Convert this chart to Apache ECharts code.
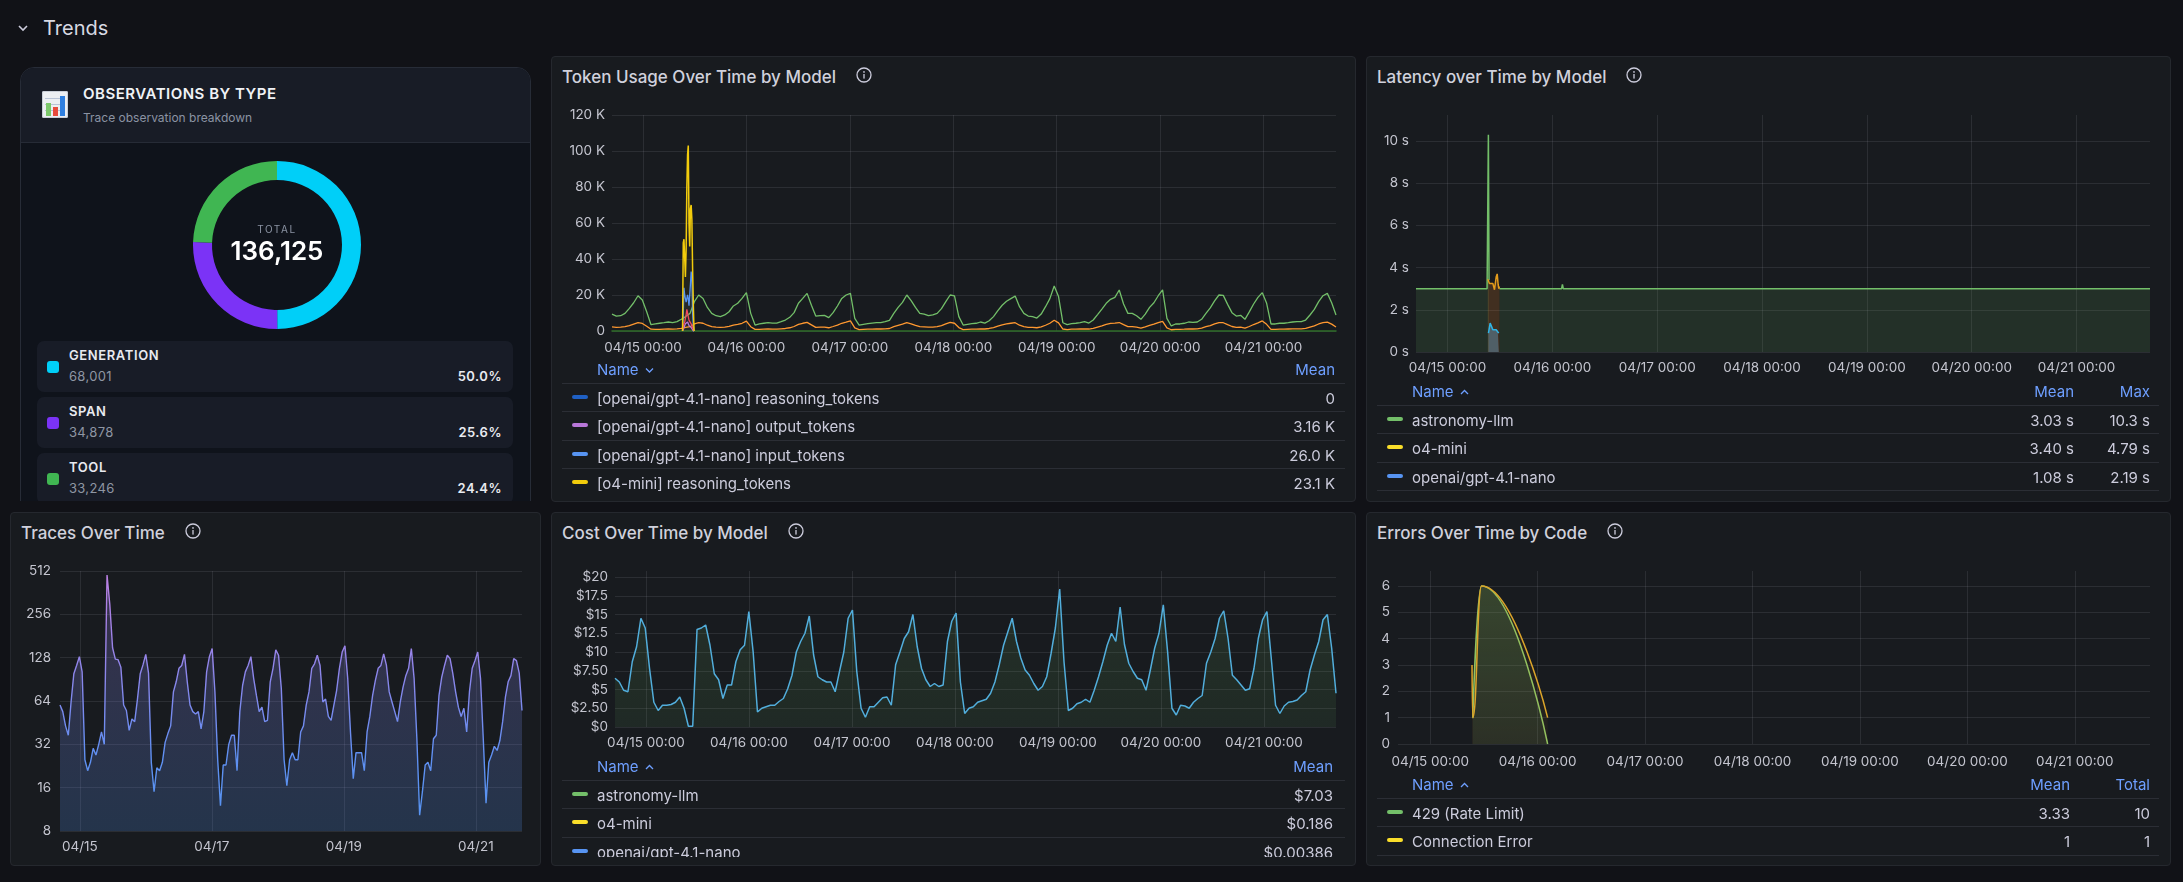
<!DOCTYPE html>
<html>
<head>
<meta charset="utf-8">
<title>Trends</title>
<script src="https://cdn.jsdelivr.net/npm/echarts@6.0.0/dist/echarts.min.js"></script>
<style>
body{margin:0;width:2183px;height:882px;overflow:hidden;background:#111217;font-family:Inter,"Noto Sans",sans-serif;color:#ccccdc;position:relative}
.panel{position:absolute;background:#181b1f;border:1px solid #25282e;border-radius:4px;box-sizing:border-box}
.ptitle{position:absolute;display:flex;align-items:center;gap:20px;height:20px;font-size:17px;font-weight:500;color:#d0d1dc;white-space:nowrap}
.chart{position:absolute}
.lg{position:absolute;overflow:hidden;font-size:15px;color:#ccccdc}
.lg .hd,.lg .row{position:absolute;left:0;right:0;border-bottom:1px solid #2b2e35;white-space:nowrap}
.lg .hd{height:26px;line-height:26px;color:#6e9fff;top:0}
.lg .row{height:28.3px;line-height:31px}
.lg .nm{position:absolute;left:35px}
.lg .mk{position:absolute;left:10px;top:12px;width:16px;height:4px;border-radius:2px}
.lg .num{position:absolute;text-align:right}
.obs{position:absolute;left:20px;top:67px;width:511px;height:434px;overflow:hidden}
.card{position:absolute;left:0;top:0;width:511px;height:520px;box-sizing:border-box;border:1px solid #272c37;border-radius:14px;background:#0f131b;overflow:hidden}
.card .head{position:absolute;left:0;top:0;right:0;height:74px;background:#181c26;border-bottom:1px solid #262b36}
.orow{position:absolute;left:16px;width:476px;height:51px;border-radius:7px;background:#181c27}
.orow .sq{position:absolute;left:10px;top:20px;width:12px;height:12px;border-radius:3px}
.orow .lab{position:absolute;left:32px;top:6px;font-size:13px;font-weight:600;color:#e8eaf0;letter-spacing:0.6px}
.orow .val{position:absolute;left:32px;top:27px;font-size:13px;color:#8f96a3;letter-spacing:0.3px}
.orow .pct{position:absolute;right:11px;top:27px;font-size:13px;font-weight:600;color:#e8eaf0;letter-spacing:0.5px}
</style>
</head>
<body>

<svg style="position:absolute;left:17px;top:24px" width="12" height="8" viewBox="0 0 12 8"><polyline points="2,2 6,6 10,2" fill="none" stroke="#ccccdc" stroke-width="1.6"/></svg>
<div style="position:absolute;left:43px;top:15px;font-size:20px;line-height:26px;color:#d8d9e3">Trends</div>

<div class="obs">
  <div class="card">
    <div class="head">
      <div style="position:absolute;left:21px;top:23px;width:26px;height:27px;background:#eceef2;border-radius:2px;box-shadow:inset 0 0 0 1px #c9ced8">
        <div style="position:absolute;left:3px;right:3px;top:7px;height:1px;background:#b9c3d6"></div>
        <div style="position:absolute;left:3px;right:3px;top:13px;height:1px;background:#b9c3d6"></div>
        <div style="position:absolute;left:3px;right:3px;top:19px;height:1px;background:#b9c3d6"></div>
        <div style="position:absolute;left:4px;top:12px;width:5px;height:13px;background:#7cc86b"></div>
        <div style="position:absolute;left:11px;top:16px;width:5px;height:9px;background:#e84a3c"></div>
        <div style="position:absolute;left:18px;top:5px;width:5px;height:20px;background:#2f7fe0"></div>
      </div>
      <div style="position:absolute;left:62px;top:16px;font-size:15px;font-weight:600;letter-spacing:0.5px;color:#f0f2f6;line-height:20px">OBSERVATIONS BY TYPE</div>
      <div style="position:absolute;left:62px;top:42px;font-size:12px;color:#8b93a3;line-height:16px">Trace observation breakdown</div>
    </div>
    <div id="donut" style="position:absolute;left:166px;top:87px;width:180px;height:180px"></div>
    <div style="position:absolute;left:166px;top:155px;width:180px;text-align:center;font-size:10px;letter-spacing:1.6px;color:#8b93a3">TOTAL</div>
    <div id="obsTotal" style="position:absolute;left:166px;top:166px;width:180px;text-align:center;font-size:26px;font-weight:600;color:#ffffff;line-height:34px"></div>
    <div id="obsRows"></div>
  </div>
</div>

<div class="panel" style="left:551px;top:56px;width:805px;height:446px"></div>
<div class="panel" style="left:1366px;top:56px;width:805px;height:446px"></div>
<div class="panel" style="left:10px;top:512px;width:531px;height:354px"></div>
<div class="panel" style="left:551px;top:512px;width:805px;height:354px"></div>
<div class="panel" style="left:1366px;top:512px;width:805px;height:354px"></div>

<div class="ptitle" style="left:562px;top:67px">Token Usage Over Time by Model<span class="info"></span></div>
<div class="ptitle" style="left:1377px;top:67px">Latency over Time by Model<span class="info"></span></div>
<div class="ptitle" style="left:21px;top:523px">Traces Over Time<span class="info"></span></div>
<div class="ptitle" style="left:562px;top:523px">Cost Over Time by Model<span class="info"></span></div>
<div class="ptitle" style="left:1377px;top:523px">Errors Over Time by Code<span class="info"></span></div>

<div id="cTokens" class="chart" style="left:551px;top:56px;width:805px;height:446px"></div>
<div id="cLatency" class="chart" style="left:1366px;top:56px;width:805px;height:446px"></div>
<div id="cTraces" class="chart" style="left:10px;top:512px;width:531px;height:354px"></div>
<div id="cCost" class="chart" style="left:551px;top:512px;width:805px;height:354px"></div>
<div id="cErrors" class="chart" style="left:1366px;top:512px;width:805px;height:354px"></div>

<script>
// ---- observations by type
const obsTypes = ['GENERATION', 'SPAN', 'TOOL'];
const obsCounts = [68001, 34878, 33246];
const obsColors = ['#00cff8', '#7b33f6', '#40b652'];

// ---- time range of the dashboard
const rangeFrom = '04/14 16:48';
const rangeTo = '04/21 16:48';
const dayLabels = ['04/15 00:00', '04/16 00:00', '04/17 00:00', '04/18 00:00', '04/19 00:00', '04/20 00:00', '04/21 00:00'];
const traceDayLabels = ['04/15', '04/17', '04/19', '04/21'];

// ---- token usage (thousands of tokens, hourly)
const astronomyInputK = [
	9.4, 8.3, 8.5, 9.8, 12.6, 15.7, 19.6, 17.2, 10.7, 3.5,
	3.9, 4.3, 4.6, 5.0, 4.6, 5.2, 6.5, 8.0, 9.8, 16.3,
	20.0, 18.1, 13.1, 9.8, 8.5, 8.0, 8.9, 10.7, 13.9, 15.4,
	18.1, 21.3, 9.8, 3.3, 3.9, 4.3, 4.6, 4.4, 4.4, 5.2,
	6.1, 7.6, 10.2, 15.4, 18.1, 20.9, 14.3, 8.3, 8.5, 8.7,
	7.4, 10.2, 13.9, 18.1, 20.0, 20.9, 7.0, 3.3, 3.7, 4.1,
	4.4, 4.6, 4.6, 5.2, 5.9, 9.8, 13.1, 15.9, 20.0, 16.9,
	13.1, 9.8, 9.4, 8.5, 8.9, 9.8, 12.4, 16.3, 20.0, 19.5,
	8.0, 3.3, 3.7, 4.1, 4.3, 5.0, 4.4, 5.7, 8.0, 11.3,
	14.3, 16.5, 18.0, 19.4, 13.5, 9.8, 8.3, 8.0, 7.2, 9.4,
	13.5, 18.0, 25.0, 19.1, 4.6, 3.5, 4.1, 4.3, 4.6, 5.2,
	4.4, 6.1, 9.1, 12.2, 15.4, 17.6, 18.7, 22.8, 15.0, 9.8,
	9.8, 8.5, 6.5, 9.4, 13.1, 15.7, 19.6, 22.8, 7.0, 2.8,
	3.9, 3.9, 4.3, 5.0, 4.8, 5.0, 6.5, 9.8, 12.8, 16.7,
	20.0, 19.8, 14.8, 10.2, 8.3, 8.7, 6.5, 10.6, 15.0, 18.7,
	21.3, 15.4, 3.9, 3.9, 4.3, 4.3, 4.6, 5.0, 5.2, 5.2,
	6.1, 8.9, 12.0, 16.3, 19.6, 20.9, 15.7, 8.9
];
const astronomyOutputK = [
	2.3, 2.0, 2.1, 2.4, 3.0, 3.8, 4.6, 4.2, 2.6, 1.0,
	0.9, 0.9, 1.0, 1.1, 1.0, 1.2, 1.5, 2.0, 2.4, 3.9,
	4.6, 4.3, 3.2, 2.4, 2.1, 2.0, 2.2, 2.6, 3.3, 3.7,
	4.3, 5.5, 2.4, 0.9, 0.9, 1.0, 1.1, 1.0, 1.0, 1.2,
	1.4, 1.8, 2.5, 3.7, 4.3, 4.8, 3.4, 2.0, 2.1, 2.1,
	1.8, 2.5, 3.3, 4.3, 4.9, 5.6, 1.7, 0.8, 0.9, 1.0,
	1.0, 1.1, 1.1, 1.2, 1.4, 2.4, 3.1, 3.8, 4.6, 4.0,
	3.1, 2.4, 2.3, 2.1, 2.2, 2.4, 3.0, 3.9, 4.8, 4.3,
	1.9, 0.8, 0.9, 1.0, 1.0, 1.2, 1.1, 1.4, 1.9, 2.7,
	3.4, 3.9, 4.3, 4.6, 3.2, 2.4, 2.0, 2.0, 1.8, 2.3,
	3.2, 4.3, 6.0, 4.5, 1.1, 0.8, 1.0, 1.0, 1.1, 1.2,
	1.1, 1.5, 2.2, 2.9, 3.7, 4.2, 4.4, 4.7, 3.5, 2.4,
	2.4, 2.1, 1.6, 2.3, 3.1, 3.8, 4.7, 5.4, 1.7, 0.7,
	0.9, 0.9, 1.0, 1.2, 1.1, 1.2, 1.6, 2.4, 3.0, 4.0,
	4.7, 4.6, 3.5, 2.5, 2.0, 2.1, 1.6, 2.5, 3.6, 4.5,
	5.6, 3.7, 0.9, 0.9, 1.0, 1.0, 1.1, 1.2, 1.2, 1.2,
	1.5, 2.2, 2.9, 3.9, 4.6, 4.9, 3.8, 2.2
];
// burst on 04/15 morning, every 10 minutes
const burstTimes = ['04/15 09:10', '04/15 09:20', '04/15 09:30', '04/15 09:40', '04/15 09:50', '04/15 10:00',
	'04/15 10:10', '04/15 10:20', '04/15 10:30', '04/15 10:40', '04/15 10:50', '04/15 11:00',
	'04/15 11:10', '04/15 11:20', '04/15 11:30', '04/15 11:40', '04/15 11:50'];
const o4ReasoningK = [0, 49, 51, 52, 30, 45, 80, 98, 103, 60, 47, 68, 70, 62, 35, 15, 0];
const nanoInputK = [0, 10, 24, 20, 18, 16, 15, 20, 18, 14, 20, 26, 33, 30, 10, 3, 0];
const nanoOutputK = [0, 1, 2, 3, 4, 5, 4, 5, 4, 3, 4, 3, 2, 2, 1, 0, 0];
const o4OutputK = [0, 3, 4, 5, 6, 9, 12, 11, 8, 6, 7, 5, 4, 3, 2, 1, 0];

const tokenLegendNames = ['[openai/gpt-4.1-nano] reasoning_tokens', '[openai/gpt-4.1-nano] output_tokens', '[openai/gpt-4.1-nano] input_tokens', '[o4-mini] reasoning_tokens'];
const tokenLegendColors = ['#1f60c4', '#b877d9', '#5794f2', '#f2cc0c'];
const tokenLegendMean = ['0', '3.16 K', '26.0 K', '23.1 K'];

// ---- latency (seconds)
const latAstroTimes = ['04/14 16:48', '04/15 09:04', '04/15 09:22', '04/15 09:31', '04/15 09:32', '04/15 11:54', '04/16 02:08', '04/16 02:19', '04/16 02:30', '04/21 16:48'];
const latAstroVals = [3.0, 3.0, 10.3, 3.4, null, 3.0, 3.0, 3.2, 3.0, 3.0];
const latO4Times = ['04/15 09:14', '04/15 09:37', '04/15 10:00', '04/15 10:23', '04/15 10:46', '04/15 11:09', '04/15 11:23', '04/15 11:36', '04/15 11:45', '04/15 11:54'];
const latO4Vals = [3.45, 3.25, 3.2, 3.25, 2.95, 3.55, 3.7, 3.2, 3.0, 3.1];
const latNanoTimes = ['04/15 09:23', '04/15 09:37', '04/15 09:46', '04/15 10:00', '04/15 10:23', '04/15 10:46', '04/15 11:09', '04/15 11:32', '04/15 11:45'];
const latNanoVals = [0.9, 0.95, 1.37, 1.3, 1.06, 1.0, 1.06, 0.95, 0.9];
const latLegendNames = ['astronomy-llm', 'o4-mini', 'openai/gpt-4.1-nano'];
const latLegendColors = ['#73bf69', '#fade2a', '#5794f2'];
const latLegendMean = ['3.03 s', '3.40 s', '1.08 s'];
const latLegendMax = ['10.3 s', '4.79 s', '2.19 s'];

// ---- traces per hour
const traceCounts = [
	60, 54, 43, 37, 63, 99, 113, 130, 102, 25,
	21, 24, 30, 27, 32, 39, 32, 480, 300, 150,
	125, 124, 110, 60, 55, 40, 48, 46, 66, 99,
	114, 135, 100, 24, 15, 22, 21, 24, 33, 38,
	43, 74, 87, 108, 113, 135, 87, 60, 54, 52,
	54, 41, 54, 102, 130, 148, 74, 25, 12, 23,
	23, 32, 37, 37, 21, 54, 82, 102, 113, 130,
	92, 70, 54, 58, 46, 47, 87, 108, 145, 133,
	78, 25, 16.5, 25, 28, 25, 25, 39, 43, 60,
	74, 108, 116, 133, 113, 63, 66, 50, 47, 60,
	76, 108, 140, 155, 92, 39, 18.5, 28, 28, 28,
	21, 39, 50, 70, 89, 108, 113, 136, 113, 74,
	63, 54, 46, 63, 80, 96, 108, 148, 92, 35,
	10.3, 15, 23, 24, 21, 35, 37, 70, 94, 113,
	133, 126, 99, 74, 58, 50, 57, 39, 74, 108,
	122, 140, 92, 35, 12.5, 24, 27, 31, 29, 34,
	46, 68, 87, 96, 126, 122, 100, 55
];

// ---- cost per hour ($)
const costAstronomy = [
	6.5, 6.0, 4.9, 4.7, 8.7, 10.7, 14.5, 13.2, 7.8, 3.3,
	2.2, 2.9, 2.9, 3.0, 3.3, 4.0, 2.5, 0.1, 0.1, 13.0,
	13.2, 13.6, 10.9, 7.1, 6.3, 3.8, 5.6, 5.6, 8.7, 10.3,
	10.9, 15.4, 10.0, 2.0, 2.5, 2.7, 2.9, 2.9, 3.4, 3.8,
	5.1, 6.9, 10.0, 11.4, 12.5, 14.8, 9.6, 6.7, 6.3, 6.0,
	6.0, 4.7, 7.4, 10.0, 14.5, 15.6, 7.4, 2.5, 1.3, 2.7,
	2.7, 3.3, 3.9, 4.0, 2.9, 8.3, 10.0, 11.8, 12.7, 15.0,
	10.7, 7.8, 6.3, 5.4, 5.8, 5.4, 5.6, 11.4, 14.1, 15.2,
	6.0, 1.8, 2.5, 2.7, 3.3, 3.5, 3.7, 4.5, 6.0, 8.3,
	10.9, 12.7, 14.5, 11.4, 9.2, 7.6, 6.9, 5.8, 4.9, 5.4,
	6.7, 9.8, 13.2, 18.4, 8.7, 2.2, 2.5, 3.1, 3.3, 3.7,
	3.3, 4.9, 6.7, 8.7, 10.9, 12.5, 11.4, 16.0, 11.0, 8.5,
	7.4, 6.5, 6.3, 4.9, 7.6, 10.5, 12.5, 16.3, 10.0, 2.5,
	1.6, 2.9, 2.8, 2.5, 3.3, 3.8, 4.2, 8.5, 10.0, 11.8,
	14.5, 15.5, 11.8, 6.9, 6.3, 5.6, 4.9, 5.1, 7.8, 11.8,
	14.3, 15.4, 9.2, 2.9, 1.8, 2.8, 3.3, 3.4, 3.6, 4.2,
	4.7, 7.6, 9.6, 11.4, 14.3, 15.0, 10.5, 4.5
];
const costTickLabels = ['$0', '$2.50', '$5', '$7.50', '$10', '$12.5', '$15', '$17.5', '$20'];
const costLegendNames = ['astronomy-llm', 'o4-mini', 'openai/gpt-4.1-nano'];
const costLegendColors = ['#73bf69', '#fade2a', '#5794f2'];
const costLegendMean = ['$7.03', '$0.186', '$0.00386'];

// ---- errors by code
const err429Times = ['04/15 09:30', '04/15 11:28', '04/16 02:14'];
const err429Vals = [1, 6, 0];
const errConnTimes = ['04/15 09:20', '04/15 09:30', '04/15 11:28', '04/16 02:14'];
const errConnVals = [3, 1, 6, 1];
const errLegendNames = ['429 (Rate Limit)', 'Connection Error'];
const errLegendColors = ['#73bf69', '#fade2a'];
const errLegendMean = ['3.33', '1'];
const errLegendTotal = ['10', '1'];

// ---------------------------------------------------------------
const FONT = 'Inter, "Noto Sans", sans-serif';
const GRID = 'rgba(204,204,220,0.11)';
const LABEL = '#c4c5cf';

function ts(s) {
	const [d, t] = s.split(' ');
	const [mo, da] = d.split('/');
	const [hh, mm] = t.split(':');
	return Date.UTC(2025, +mo - 1, +da, +hh, +mm);
}
const t0 = ts(rangeFrom), t1 = ts(rangeTo);
function hourly(vals) {
	const step = (t1 - t0) / (vals.length - 1);
	return vals.map((v, i) => [t0 + i * step, v]);
}
function pairs(times, vals) {
	return times.map((s, i) => [ts(s), vals[i]]);
}
const dayTicks = dayLabels.map(ts);
const traceTicks = traceDayLabels.map(s => ts(s + ' 00:00'));

function xAxis(gridIndex, ticks, labels, o) {
	return {
		type: 'value', gridIndex: gridIndex, min: t0, max: t1,
		axisLine: o.line ? {show: true, onZero: false, lineStyle: {color: o.line, width: 1.5}} : {show: false},
		axisTick: {show: false, customValues: ticks},
		axisLabel: {
			show: !!o.labels, customValues: ticks, color: LABEL, fontSize: 13.5, fontFamily: FONT, margin: o.margin || 9,
			formatter: function (v) {
				const i = ticks.findIndex(t => Math.abs(t - v) < 60000);
				return i < 0 ? '' : labels[i];
			}
		},
		splitLine: {show: !!o.split, lineStyle: {color: GRID}}
	};
}
function yAxis(gridIndex, o) {
	return {
		type: 'value', gridIndex: gridIndex, min: 0, max: o.max, interval: o.interval,
		axisLine: {show: false}, axisTick: {show: false},
		axisLabel: {color: LABEL, fontSize: 13.5, fontFamily: FONT, margin: o.margin || 7, formatter: o.formatter},
		splitLine: {show: true, lineStyle: {color: GRID}}
	};
}
function frameY() {
	return {type: 'value', gridIndex: 0, min: 0, max: 1, show: false};
}
function fade(color, a, b) {
	return new echarts.graphic.LinearGradient(0, 0, 0, 1, [
		{offset: 0, color: color.replace('A', a)},
		{offset: 1, color: color.replace('A', b)}
	]);
}
function info() {
	return '<svg width="16" height="16" viewBox="0 0 16 16"><circle cx="8" cy="8" r="7" fill="none" stroke="#ccccdc" stroke-width="1.3"/><rect x="7.35" y="7" width="1.3" height="4.6" fill="#ccccdc"/><circle cx="8" cy="4.9" r="0.85" fill="#ccccdc"/></svg>';
}
document.querySelectorAll('.info').forEach(el => el.innerHTML = info());

function chevron(up) {
	const p = up ? '1,5 4.5,1.5 8,5' : '1,1.5 4.5,5 8,1.5';
	return '<svg width="9" height="7" viewBox="0 0 9 7" style="margin-left:6px;vertical-align:middle"><polyline points="' + p + '" fill="none" stroke="#6e9fff" stroke-width="1.3"/></svg>';
}
function legend(o) {
	const box = document.createElement('div');
	box.className = 'lg';
	box.style.cssText = 'left:' + o.left + 'px;top:' + o.top + 'px;width:' + o.width + 'px;height:' + o.height + 'px';
	let h = '<div class="hd"><span class="nm">Name' + chevron(o.up) + '</span>';
	o.cols.forEach(c => { h += '<span class="num" style="right:' + c.right + 'px">' + c.title + '</span>'; });
	h += '</div>';
	o.names.forEach((n, i) => {
		h += '<div class="row" style="top:' + (26 + i * 28.3) + 'px"><span class="mk" style="background:' + o.colors[i] + '"></span><span class="nm">' + n + '</span>';
		o.cols.forEach(c => { h += '<span class="num" style="right:' + c.right + 'px">' + c.values[i] + '</span>'; });
		h += '</div>';
	});
	box.innerHTML = h;
	document.body.appendChild(box);
}

// ---- observations card
const obsTotal = obsCounts.reduce((a, b) => a + b, 0);
document.getElementById('obsTotal').textContent = obsTotal.toLocaleString('en-US');
let rows = '';
obsTypes.forEach((t, i) => {
	rows += '<div class="orow" style="top:' + (273 + i * 56) + 'px"><span class="sq" style="background:' + obsColors[i] + '"></span>' +
		'<span class="lab">' + t + '</span><span class="val">' + obsCounts[i].toLocaleString('en-US') + '</span>' +
		'<span class="pct">' + (obsCounts[i] / obsTotal * 100).toFixed(1) + '%</span></div>';
});
document.getElementById('obsRows').innerHTML = rows;

echarts.init(document.getElementById('donut')).setOption({
	animation: false,
	series: [{
		type: 'pie', radius: [65, 84], center: ['50%', '50%'], startAngle: 90, silent: true,
		label: {show: false}, labelLine: {show: false},
		itemStyle: {borderWidth: 0},
		data: obsTypes.map((t, i) => ({name: t, value: obsCounts[i], itemStyle: {color: obsColors[i]}}))
	}]
});

// ---- token usage
function tline(name, color, data, width, area) {
	const s = {name: name, type: 'line', data: data, showSymbol: false, lineStyle: {color: color, width: width || 1.3}, itemStyle: {color: color}};
	if (area) s.areaStyle = {color: area};
	return s;
}
echarts.init(document.getElementById('cTokens')).setOption({
	animation: false,
	grid: {left: 61, top: 59, width: 724, height: 216},
	xAxis: xAxis(0, dayTicks, dayLabels, {labels: true, split: true, margin: 10, line: '#2f6e2a'}),
	yAxis: yAxis(0, {max: 120, interval: 20, formatter: v => v ? v + ' K' : '0'}),
	series: [
		tline('[astronomy-llm] input_tokens', '#73bf69', hourly(astronomyInputK)),
		tline('[astronomy-llm] output_tokens', '#ff9830', hourly(astronomyOutputK)),
		tline('[openai/gpt-4.1-nano] input_tokens', '#5794f2', pairs(burstTimes, nanoInputK), 1.3, 'rgba(87,148,242,0.08)'),
		tline('[openai/gpt-4.1-nano] output_tokens', '#b877d9', pairs(burstTimes, nanoOutputK)),
		tline('[o4-mini] output_tokens', '#f2495c', pairs(burstTimes, o4OutputK)),
		tline('[o4-mini] reasoning_tokens', '#f2cc0c', pairs(burstTimes, o4ReasoningK), 1.5, 'rgba(242,204,12,0.08)')
	]
});
legend({left: 562, top: 357, width: 783, height: 138, up: false, names: tokenLegendNames, colors: tokenLegendColors,
	cols: [{title: 'Mean', right: 10, values: tokenLegendMean}]});

// ---- latency
echarts.init(document.getElementById('cLatency')).setOption({
	animation: false,
	grid: [{left: 50, top: 59, width: 734, height: 237}, {left: 50, top: 85, width: 734, height: 211}],
	xAxis: [xAxis(0, dayTicks, dayLabels, {split: true}), xAxis(1, dayTicks, dayLabels, {labels: true, margin: 9})],
	yAxis: [frameY(), yAxis(1, {max: 10, interval: 2, formatter: v => v + ' s'})],
	series: [
		Object.assign(tline('astronomy-llm', '#73bf69', pairs(latAstroTimes, latAstroVals), 1.5, 'rgba(115,191,105,0.19)'), {xAxisIndex: 1, yAxisIndex: 1, clip: false}),
		Object.assign(tline('o4-mini', '#e39c1c', pairs(latO4Times, latO4Vals), 1.5, 'rgba(255,140,40,0.26)'), {xAxisIndex: 1, yAxisIndex: 1}),
		Object.assign(tline('openai/gpt-4.1-nano', '#2fb4e6', pairs(latNanoTimes, latNanoVals), 1.5, 'rgba(110,185,235,0.5)'), {xAxisIndex: 1, yAxisIndex: 1})
	]
});
legend({left: 1377, top: 379, width: 782, height: 113, up: true, names: latLegendNames, colors: latLegendColors,
	cols: [{title: 'Mean', right: 85, values: latLegendMean}, {title: 'Max', right: 9, values: latLegendMax}]});

// ---- traces
echarts.init(document.getElementById('cTraces')).setOption({
	animation: false,
	grid: {left: 50, top: 59, width: 462, height: 260},
	xAxis: xAxis(0, traceTicks, traceDayLabels, {labels: true, split: true, margin: 9}),
	yAxis: {
		type: 'log', logBase: 2, min: 8, max: 512,
		axisLine: {show: false}, axisTick: {show: false},
		axisLabel: {color: LABEL, fontSize: 13.5, fontFamily: FONT, margin: 9},
		splitLine: {show: true, lineStyle: {color: GRID}}
	},
	series: [{
		name: 'Traces', type: 'line', data: hourly(traceCounts), showSymbol: false,
		lineStyle: {width: 1.4, color: new echarts.graphic.LinearGradient(0, 0, 0, 1, [
			{offset: 0, color: '#bb80e2'}, {offset: 0.3, color: '#9a83e8'}, {offset: 0.55, color: '#7b8aee'},
			{offset: 0.75, color: '#5f90f2'}, {offset: 1, color: '#5794f2'}])},
		areaStyle: {color: new echarts.graphic.LinearGradient(0, 0, 0, 1, [
			{offset: 0, color: 'rgba(170,128,232,0.32)'}, {offset: 1, color: 'rgba(87,148,242,0.30)'}])}
	}]
});

// ---- cost
echarts.init(document.getElementById('cCost')).setOption({
	animation: false,
	grid: [{left: 64, top: 59, width: 721, height: 156}, {left: 64, top: 65, width: 721, height: 150}],
	xAxis: [xAxis(0, dayTicks, dayLabels, {split: true}), xAxis(1, dayTicks, dayLabels, {labels: true, margin: 9})],
	yAxis: [frameY(), yAxis(1, {max: 20, interval: 2.5, formatter: v => costTickLabels[Math.round(v / 2.5)]})],
	series: [{
		name: 'astronomy-llm', type: 'line', xAxisIndex: 1, yAxisIndex: 1, data: hourly(costAstronomy), showSymbol: false,
		lineStyle: {width: 1.5, color: '#52aedc'},
		areaStyle: {color: fade('rgba(115,191,105,A)', 0.2, 0.13)}
	}]
});
legend({left: 562, top: 754, width: 783, height: 103, up: true, names: costLegendNames, colors: costLegendColors,
	cols: [{title: 'Mean', right: 12, values: costLegendMean}]});

// ---- errors
echarts.init(document.getElementById('cErrors')).setOption({
	animation: false,
	grid: [{left: 32, top: 59, width: 752, height: 173}, {left: 32, top: 74, width: 752, height: 158}],
	xAxis: [xAxis(0, dayTicks, dayLabels, {split: true}), xAxis(1, dayTicks, dayLabels, {labels: true, margin: 11})],
	yAxis: [frameY(), yAxis(1, {max: 6, interval: 1, margin: 8})],
	series: [
		{name: 'Connection Error', type: 'line', xAxisIndex: 1, yAxisIndex: 1, data: pairs(errConnTimes, errConnVals), showSymbol: false, clip: false,
			smooth: 0.5, smoothMonotone: 'x', lineStyle: {width: 1.5, color: '#dca52a'},
			areaStyle: {color: 'rgba(240,140,40,0.08)'}, z: 3},
		{name: '429 (Rate Limit)', type: 'line', xAxisIndex: 1, yAxisIndex: 1, data: pairs(err429Times, err429Vals), showSymbol: false, clip: false,
			smooth: 0.5, smoothMonotone: 'x', lineStyle: {width: 1.5, color: '#8fc463'},
			areaStyle: {color: fade('rgba(115,191,105,A)', 0.34, 0.15)}, z: 2}
	]
});
legend({left: 1377, top: 772, width: 782, height: 86, up: true, names: errLegendNames, colors: errLegendColors,
	cols: [{title: 'Mean', right: 89, values: errLegendMean}, {title: 'Total', right: 9, values: errLegendTotal}]});
</script>
</body>
</html>
